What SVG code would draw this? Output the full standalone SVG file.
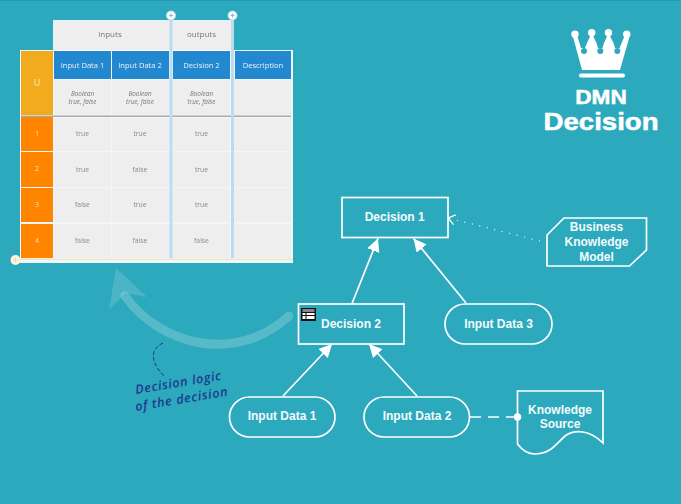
<svg xmlns="http://www.w3.org/2000/svg" width="681" height="504" viewBox="0 0 681 504">
<defs>
<style>
.n{fill:none;stroke:#fff;stroke-width:1.7}
.t{font-family:"Liberation Sans",Arial,sans-serif;font-weight:700;font-size:12px;fill:#f4fbfc;text-anchor:middle}
.c{font-family:"Open Sans","DejaVu Sans",sans-serif;font-size:6.8px;fill:#8a8a8a;text-anchor:middle}
.h{font-family:"Open Sans","DejaVu Sans",sans-serif;font-size:7.6px;fill:#e8f2fa;text-anchor:middle}
.g{font-family:"Open Sans","DejaVu Sans",sans-serif;font-size:8px;fill:#777;text-anchor:middle}
.b{font-family:"Open Sans","DejaVu Sans",sans-serif;font-size:6.4px;font-style:italic;fill:#777;text-anchor:middle}
.o{font-family:"Open Sans","DejaVu Sans",sans-serif;font-size:7px;fill:#fff;text-anchor:middle;opacity:.75}
.k{fill:#eee}
.bl{fill:#2488cf}
.or{fill:#ff8400}
.cur{font-family:"Open Sans","DejaVu Sans",sans-serif;font-style:italic;font-weight:600;font-size:12.5px;fill:#1d3a90;letter-spacing:.7px}
.big{font-family:"Liberation Sans",Arial,sans-serif;font-weight:700;fill:#fff;text-anchor:middle;stroke:#fff;stroke-width:.5}
</style>
<filter id="soft" x="-5%" y="-5%" width="110%" height="110%"><feGaussianBlur stdDeviation=".45"/></filter>
<marker id="a" markerWidth="14" markerHeight="14" refX="13" refY="6.500" orient="auto" markerUnits="userSpaceOnUse"><path d="M0 0L13 6.500L0 13Z" fill="#fff"/></marker>
<marker id="v" markerWidth="12" markerHeight="14" refX="8" refY="6" orient="auto" markerUnits="userSpaceOnUse"><path d="M1 1L8 6L1 11" fill="none" stroke="#fff" stroke-width="1.200"/></marker>
</defs>
<rect width="681" height="504" fill="#2ca9bc"/>
<rect width="681" height="1" fill="#1c9db2"/>
<g id="decision-table" filter="url(#soft)">
<rect x="53" y="20" width="180" height="31" fill="#fff" opacity=".85"/>
<rect x="20" y="50" width="273" height="213" fill="#fff" opacity=".92"/>
<rect x="54" y="21" width="116" height="29" class="k"/>
<rect x="173" y="21" width="58" height="29" class="k"/>
<rect x="21" y="51" width="32" height="64" fill="#f1ab1d"/>
<rect x="54" y="51" width="57" height="28" class="bl"/>
<rect x="112" y="51" width="57" height="28" class="bl"/>
<rect x="173" y="51" width="57" height="28" class="bl"/>
<rect x="235" y="51" width="56" height="28" class="bl"/>
<g class="k">
<rect x="54" y="80" width="57" height="35"/><rect x="112" y="80" width="57" height="35"/><rect x="173" y="80" width="57" height="35"/><rect x="234" y="80" width="57" height="35"/>
<rect x="54" y="118" width="57" height="33"/><rect x="112" y="118" width="57" height="33"/><rect x="173" y="118" width="57" height="33"/><rect x="234" y="118" width="57" height="33"/>
<rect x="54" y="152" width="57" height="35"/><rect x="112" y="152" width="57" height="35"/><rect x="173" y="152" width="57" height="35"/><rect x="234" y="152" width="57" height="35"/>
<rect x="54" y="188" width="57" height="34"/><rect x="112" y="188" width="57" height="34"/><rect x="173" y="188" width="57" height="34"/><rect x="234" y="188" width="57" height="34"/>
<rect x="54" y="224" width="57" height="34"/><rect x="112" y="224" width="57" height="34"/><rect x="173" y="224" width="57" height="34"/><rect x="234" y="224" width="57" height="34"/>
</g>
<rect x="21" y="115.500" width="270" height="1.500" fill="#aaa"/>
<g class="or">
<rect x="21" y="117" width="32" height="34"/><rect x="21" y="152" width="32" height="35"/><rect x="21" y="188" width="32" height="34"/><rect x="21" y="224" width="32" height="34"/>
</g>
<rect x="20" y="258.500" width="273" height="1.500" fill="#f3e3c8"/>
<rect x="169.500" y="20" width="3" height="238" fill="#bcdcee"/>
<rect x="231" y="20" width="3" height="238" fill="#bcdcee"/>
<g fill="#fff" stroke="#bcdcee"><circle cx="171" cy="15.500" r="4.500"/><circle cx="232.500" cy="15.500" r="4.500"/></g>
<circle cx="15.500" cy="260" r="5" fill="#fdf3e0"/>
<path d="M169 15.500h4M171 13.500v4M230.500 15.500h4M232.500 13.500v4" stroke="#7fb8de" stroke-width="1"/>
<path d="M13 260h5M15.500 257.500v5" stroke="#f3d9a8" stroke-width="1"/>
<text class="g" x="110" y="37">inputs</text>
<text class="g" x="201.500" y="37">outputs</text>
<text class="o" x="37" y="86" style="font-size:9px">U</text>
<text class="h" x="82.500" y="67.500">Input Data 1</text>
<text class="h" x="140" y="67.500">Input Data 2</text>
<text class="h" x="201.500" y="67.500">Decision 2</text>
<text class="h" x="263" y="67.500">Description</text>
<g class="b">
<text x="82.500" y="96">Boolean</text><text x="82.500" y="104">true, false</text>
<text x="140" y="96">Boolean</text><text x="140" y="104">true, false</text>
<text x="201.500" y="96">Boolean</text><text x="201.500" y="104">true, false</text>
</g>
<g class="o"><text x="37" y="136">1</text><text x="37" y="171">2</text><text x="37" y="207">3</text><text x="37" y="243">4</text></g>
<g class="c">
<text x="82.500" y="136">true</text><text x="140" y="136">true</text><text x="201.500" y="136">true</text>
<text x="82.500" y="171.500">true</text><text x="140" y="171.500">false</text><text x="201.500" y="171.500">true</text>
<text x="82.500" y="207">false</text><text x="140" y="207">true</text><text x="201.500" y="207">true</text>
<text x="82.500" y="243">false</text><text x="140" y="243">false</text><text x="201.500" y="243">false</text>
</g>
</g>
<g id="crown">
<path fill="#fff" d="M572.500 35L582 70H620L630 35H625L619.500 48H615L613.500 43L608.500 33L604 43L602.500 48H598L596.500 43L591.700 33L587 43L585 48H581L577 35Z"/>
<g fill="#fff"><circle cx="575" cy="34.300" r="3.700"/><circle cx="591.700" cy="32.700" r="3.700"/><circle cx="608.500" cy="32.700" r="3.700"/><circle cx="626.700" cy="34.300" r="3.700"/></g>
<g fill="#2ca9bc"><circle cx="584" cy="51" r="3"/><circle cx="600.300" cy="51" r="3"/><circle cx="617.300" cy="51" r="3"/></g>
<rect x="579" y="73.500" width="46" height="4" rx="2" fill="#fff"/>
<text class="big" transform="translate(601 104) scale(1.160 1)" style="font-size:19.500px">DMN</text>
<text class="big" transform="translate(601 130) scale(1.200 1)" style="font-size:23px">Decision</text>
</g>
<g id="connectors">
<path d="M125 296C160 345 235 365 289 316" fill="none" stroke="#fff" stroke-opacity=".2" stroke-width="9" stroke-linecap="round"/>
<path d="M116 268L147 297L125 293L109 310Z" fill="#fff" fill-opacity=".15"/>
<path d="M163 343C150 349 150 362 164 376" fill="none" stroke="#1d3a90" stroke-width="1" stroke-dasharray="4 2"/>
<path d="M352 303.500L378 238.500" class="n" marker-end="url(#a)"/>
<path d="M466 303L413.500 238.500" class="n" marker-end="url(#a)"/>
<path d="M283 396L332 344" class="n" marker-end="url(#a)"/>
<path d="M417 396L369 344" class="n" marker-end="url(#a)"/>
<path d="M540 241L448 218" fill="none" stroke="#fff" stroke-width="1.200" stroke-dasharray="1 6.700" marker-end="url(#v)"/>
<path d="M470 417H517" fill="none" stroke="#fff" stroke-width="1.700" stroke-dasharray="11 7"/>
<circle cx="517.500" cy="417" r="3.700" fill="#fff"/>
</g>
<g id="decision-1"><rect x="342" y="197.500" width="106" height="40" class="n"/><text class="t" x="394.700" y="221">Decision 1</text></g>
<g id="decision-2"><rect x="298.500" y="304" width="105.500" height="40" class="n"/>
<rect x="301" y="308" width="15" height="13" fill="#111"/><rect x="302.500" y="309" width="12" height="3" fill="#888"/><path d="M302.500 313h3v2h-3zM306.500 313h8v2h-8zM302.500 316h3v3h-3zM306.500 316h8v3h-8z" fill="#fff"/>
<text class="t" x="351" y="327.500">Decision 2</text></g>
<g id="input-data-3"><rect x="445" y="304" width="107" height="40" rx="20" class="n"/><text class="t" x="498.500" y="328">Input Data 3</text></g>
<g id="input-data-1"><rect x="229.500" y="397" width="105.500" height="40" rx="20" class="n"/><text class="t" x="282" y="420">Input Data 1</text></g>
<g id="input-data-2"><rect x="364" y="397" width="105.500" height="40" rx="20" class="n"/><text class="t" x="417" y="420">Input Data 2</text></g>
<g id="bkm"><path d="M547 235L564 218H646.500V250L629.500 266H547Z" class="n"/><text class="t" x="596.500" y="231">Business</text><text class="t" x="596.500" y="246">Knowledge</text><text class="t" x="596.500" y="261">Model</text></g>
<g id="knowledge-source"><path d="M517.500 391H603V443C590 430 575 429 565 436C555 445 550 454 535 454C528 454 522 450 517.500 444Z" class="n"/><text class="t" x="560" y="414">Knowledge</text><text class="t" x="560" y="428">Source</text></g>
<g id="note" class="cur">
<text transform="translate(136 394) rotate(-9.500)">Decision logic</text>
<text transform="translate(136 411) rotate(-9.500)">of the decision</text>
</g>
</svg>
